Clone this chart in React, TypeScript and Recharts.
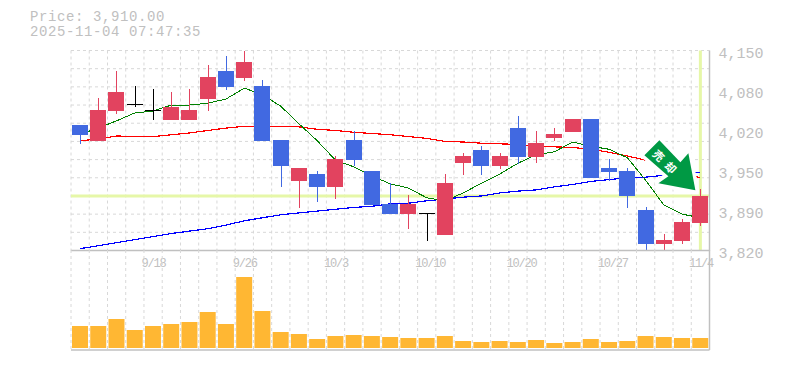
import { Bar, CartesianGrid, ComposedChart, Line, ReferenceDot, ReferenceLine, XAxis, YAxis } from "recharts";

// trading days, oldest first
const days = [
  "9/11", "9/12", "9/16", "9/17", "9/18", "9/19", "9/22", "9/24", "9/25", "9/26",
  "9/29", "9/30", "10/1", "10/2", "10/3", "10/6", "10/7", "10/8", "10/9", "10/10",
  "10/14", "10/15", "10/16", "10/17", "10/20", "10/21", "10/22", "10/23", "10/24", "10/27",
  "10/28", "10/29", "10/30", "10/31", "11/4",
];
const opens = [
  4027, 4001, 4051, 4061, 4051, 4035, 4035, 4070, 4116, 4105,
  4091, 4002, 3935, 3946, 3925, 4002, 3951, 3897, 3880, 3881,
  3846, 3964, 3986, 3959, 4022, 3974, 4006, 4016, 4037, 3956,
  3951, 3887, 3831, 3836, 3865,
];
const closes = [
  4011, 4052, 4081, 4061, 4051, 4057, 4052, 4106, 4090, 4131,
  4001, 3959, 3956, 3925, 3971, 3969, 3895, 3880, 3897, 3881,
  3931, 3976, 3959, 3976, 3974, 3997, 4012, 4037, 3940, 3950,
  3910, 3831, 3837, 3867, 3910,
];
const highs = [
  4027, 4072, 4116, 4091, 4086, 4081, 4086, 4126, 4141, 4150,
  4101, 4002, 3956, 3951, 3976, 4017, 3951, 3931, 3912, 3882,
  3946, 3981, 3992, 3981, 4042, 4017, 4022, 4037, 4037, 3971,
  3956, 3892, 3847, 3872, 3921,
];
const lows = [
  3996, 4001, 4046, 4056, 4035, 4035, 4035, 4050, 4085, 4100,
  4001, 3925, 3890, 3900, 3905, 3959, 3895, 3880, 3855, 3836,
  3846, 3945, 3945, 3954, 3963, 3964, 4001, 4016, 3940, 3935,
  3890, 3820, 3820, 3831, 3860,
];
const maShort = [
  4012, 4022, 4034, 4047, 4050, 4060, 4060, 4063, 4070, 4088,
  4077, 4058, 4029, 4001, 3969, 3958, 3943, 3930, 3923, 3907,
  3902, 3915, 3931, 3946, 3964, 3978, 3983, 3999, 3992, 3987,
  3973, 3936, 3895, 3880, 3874,
];
const maMid = [
  4001, 4004, 4009, 4008, 4008, 4011, 4014, 4018, 4022, 4025,
  4025, 4025, 4024, 4020, 4018, 4015, 4013, 4011, 4008, 4005,
  4000, 3999, 3997, 3996, 3995, 3992, 3991, 3990, 3987, 3982,
  3976, 3969, 3959, 3949, 3940,
];
const maLong = [
  3823, 3828, 3833, 3838, 3843, 3848, 3852, 3856, 3862, 3869,
  3874, 3879, 3882, 3885, 3888, 3891, 3893, 3897, 3898, 3902,
  3905, 3908, 3910, 3915, 3918, 3920, 3925, 3929, 3934, 3937,
  3940, 3941, 3944, 3946, 3949,
];
const volumes = [
  220, 220, 290, 180, 220, 240, 260, 360, 240, 710,
  370, 160, 140, 90, 120, 130, 120, 110, 100, 100,
  120, 70, 60, 70, 60, 80, 50, 60, 90, 60,
  70, 120, 110, 100, 100,
];
const priceTicks = [4150, 4084, 4018, 3952, 3886, 3820];
const gridPrices = [3820, 3850, 3880, 3910, 3940, 3970, 4000, 4030, 4060, 4090, 4120, 4150];
const dateTicks = ["9/18", "9/26", "10/3", "10/10", "10/20", "10/27", "11/4"];
const lastPrice = 3910;

const rows = days.map((day, i) => ({
  day,
  open: opens[i],
  close: closes[i],
  range: [lows[i], highs[i]],
  maShort: maShort[i],
  maMid: maMid[i],
  maLong: maLong[i],
  volume: volumes[i],
}));

const WIDTH = 785;
const LEFT = 71;
const RIGHT = 709.5;
const band = (RIGHT - LEFT) / days.length;
const gridXs = days.map((_, i) => LEFT + band * i);
const MONO = "'Liberation Mono', monospace";
const GREY = "#c0c0c0";
const GRID = "#d8d8d8";

function candleColor(open: number, close: number) {
  if (close > open) return "#e2435f";
  if (close < open) return "#4169e1";
  return "#000000";
}

// wick spans the bar's [low, high]; the body is placed from open/close on the same scale
function Candle(props: any) {
  const { x, y, width, height, payload } = props;
  const [low, high] = payload.range;
  const perUnit = height / (high - low);
  const top = y + (high - Math.max(payload.open, payload.close)) * perUnit;
  const bottom = y + (high - Math.min(payload.open, payload.close)) * perUnit;
  const color = candleColor(payload.open, payload.close);
  const mid = Math.round(x + width / 2) + 0.5;
  return (
    <g shapeRendering="crispEdges">
      <line x1={mid} x2={mid} y1={y} y2={y + height} stroke={color} strokeWidth={1} />
      {payload.open === payload.close ? (
        <line x1={x} x2={x + width} y1={top} y2={top} stroke={color} strokeWidth={1} />
      ) : (
        <rect x={x} y={top} width={width} height={Math.max(bottom - top, 1)} fill={color} />
      )}
    </g>
  );
}

function SellArrow(props: any) {
  const { cx, cy } = props;
  const pts = [
    [-41, -49],
    [-56, -34],
    [-32, -13],
    [-42, -6],
    [-5, 1],
    [-12, -36],
    [-20, -27],
  ];
  const d = pts.map(([a, b]) => `${cx + a},${cy + b}`).join(" ");
  return (
    <g>
      <polygon points={d} fill="#009944" stroke="#ffffff" strokeWidth={7} strokeLinejoin="round" />
      <polygon points={d} fill="#009944" />
      <text
        x={0}
        y={0}
        transform={`translate(${cx - 33},${cy - 26}) rotate(45)`}
        fill="#ffffff"
        fontSize={11}
        fontWeight={700}
        textAnchor="middle"
        dominantBaseline="central"
        letterSpacing={6}
        fontFamily="'Noto Sans CJK JP'"
      >
        売却
      </text>
    </g>
  );
}

function priceLabel(v: number) {
  return (Math.round(v / 10) * 10).toLocaleString("en-US");
}

function DateTick(props: any) {
  const { x, y, payload } = props;
  return (
    <text x={x - 11.5} y={y + 8} fontSize={12} letterSpacing={-1.2} fontFamily={MONO} fill={GREY}>
      {payload.value}
    </text>
  );
}

export default function App() {
  return (
    <div style={{ position: "absolute", left: 0, top: 0, width: WIDTH, height: 370, background: "#fff" }}>
      <div style={{ position: "absolute", left: 30, top: 10, fontFamily: MONO, fontSize: 14, letterSpacing: 0.6, lineHeight: "15px", color: GREY }}>
        <div>Price: 3,910.00</div>
        <div>2025-11-04 07:47:35</div>
      </div>
      <div style={{ position: "absolute", left: 0, top: 0 }}>
        <ComposedChart
          width={WIDTH}
          height={270.5}
          data={rows}
          margin={{ top: 50.5, right: 0, bottom: 0, left: LEFT }}
          barCategoryGap={0}
        >
          <CartesianGrid stroke={GRID} strokeDasharray="3 3" horizontalValues={gridPrices} verticalPoints={gridXs} />
          <XAxis
            dataKey="day"
            interval={0}
            height={20}
            ticks={dateTicks}
            tickLine={false}
            axisLine={{ stroke: GREY, strokeWidth: 1.5 }}
            tick={<DateTick />}
          />
          <YAxis
            orientation="right"
            domain={[3820, 4150]}
            ticks={priceTicks}
            tickFormatter={priceLabel}
            interval={0}
            width={WIDTH - RIGHT}
            tickLine={false}
            axisLine={{ stroke: GREY, strokeWidth: 1.5 }}
            tick={{ fontSize: 15, fontFamily: MONO, fill: GREY, dx: 1, dy: 2 }}
            allowDataOverflow
          />
          <ReferenceLine y={lastPrice} stroke="#e6f7a8" strokeWidth={3} zIndex={50} />
          <ReferenceLine x="11/4" stroke="#e6f7a8" strokeWidth={3} zIndex={50} />
          <Line dataKey="maLong" stroke="#0000ff" strokeWidth={1.2} dot={false} isAnimationActive={false} shapeRendering="crispEdges" zIndex={100} />
          <Line dataKey="maMid" stroke="#ff0000" strokeWidth={1.2} dot={false} isAnimationActive={false} shapeRendering="crispEdges" zIndex={100} />
          <Line dataKey="maShort" stroke="#008000" strokeWidth={1} dot={false} isAnimationActive={false} shapeRendering="crispEdges" zIndex={100} />
          <Bar dataKey="range" barSize={16} shape={Candle} isAnimationActive={false} zIndex={300} />
          <ReferenceDot x="11/4" y={3921} r={1} shape={SellArrow} ifOverflow="visible" zIndex={600} />
        </ComposedChart>
      </div>
      <div style={{ position: "absolute", left: 0, top: 250 }}>
        <ComposedChart
          width={WIDTH}
          height={102}
          data={rows}
          margin={{ top: 0, right: 0, bottom: 0, left: LEFT }}
          barCategoryGap={0}
        >
          <CartesianGrid stroke={GRID} strokeDasharray="3 3" horizontal={false} verticalPoints={gridXs} />
          <XAxis dataKey="day" height={2} tick={false} tickLine={false} axisLine={{ stroke: GREY, strokeWidth: 1.5 }} />
          <YAxis
            orientation="right"
            domain={[-20, 980]}
            width={WIDTH - RIGHT}
            tick={false}
            tickLine={false}
            axisLine={{ stroke: GREY, strokeWidth: 1.5 }}
          />
          <Bar dataKey="volume" barSize={16} fill="#ffb733" isAnimationActive={false} />
        </ComposedChart>
      </div>
    </div>
  );
}
